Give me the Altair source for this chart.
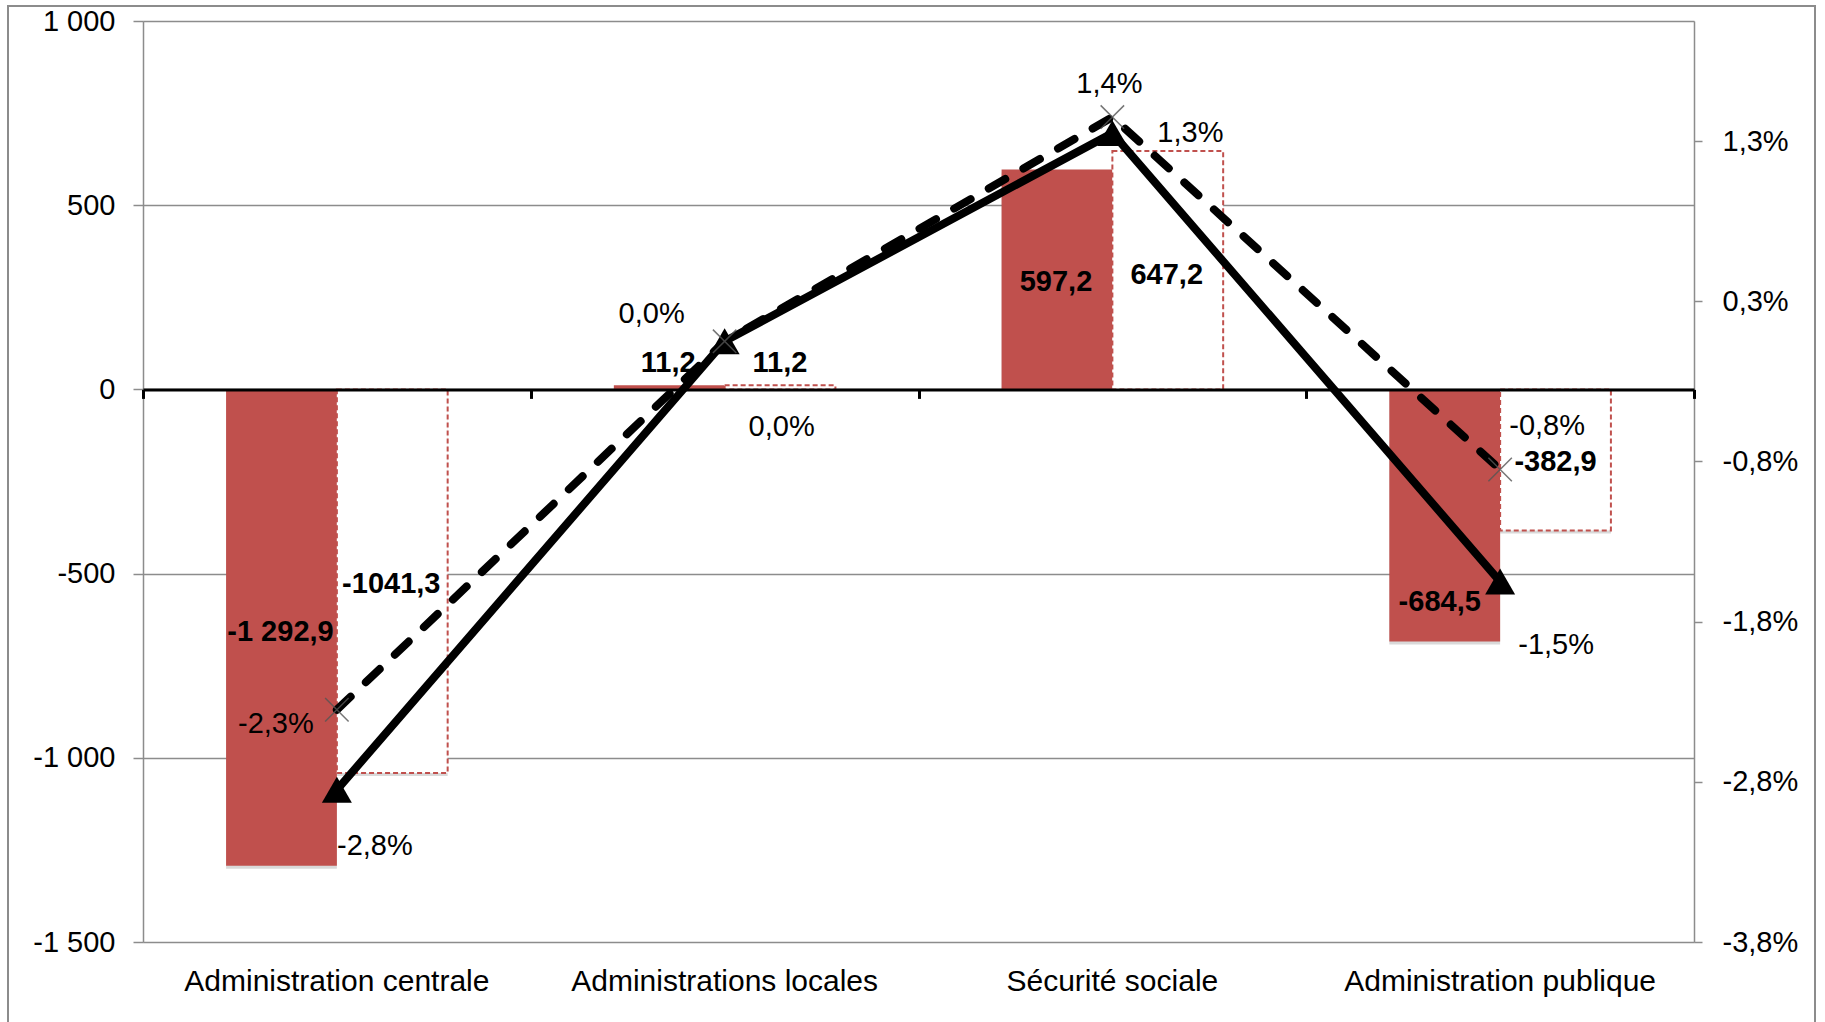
import json

import altair as alt
import pandas as pd

# ---- data -------------------------------------------------------------
CATEGORIES = [
    "Administration centrale",
    "Administrations locales",
    "Sécurité sociale",
    "Administration publique",
]
BAR_SERIES = ["Solde 1", "Solde 2"]
SOLDE_1 = [-1292.9, 11.2, 597.2, -684.5]
SOLDE_2 = [-1041.3, 11.2, 647.2, -382.9]
SOLDE_1_LABELS = ["-1 292,9", "11,2", "597,2", "-684,5"]
SOLDE_2_LABELS = ["-1041,3", "11,2", "647,2", "-382,9"]

RATE_SERIES = ["Taux 1", "Taux 2"]
TAUX_1 = [-2.8, 0.0, 1.3, -1.5]   # solid line, triangles
TAUX_2 = [-2.3, 0.0, 1.4, -0.8]   # dashed line, crosses
TAUX_1_LABELS = ["-2,8%", "0,0%", "1,3%", "-1,5%"]
TAUX_2_LABELS = ["-2,3%", "0,0%", "1,4%", "-0,8%"]

LEFT_DOMAIN = [-1500, 1000]
LEFT_TICKS = [-1500, -1000, -500, 0, 500, 1000]
LEFT_TICK_LABELS = ["-1 500", "-1 000", "-500", "0", "500", "1 000"]
RIGHT_DOMAIN = [-3.75, 2.0]
RIGHT_TICKS = [-3.75, -2.75, -1.75, -0.75, 0.25, 1.25]
RIGHT_TICK_LABELS = ["-3,8%", "-2,8%", "-1,8%", "-0,8%", "0,3%", "1,3%"]

# ---- styling ----------------------------------------------------------
W, H = 1551, 921
PAD = {"left": 143, "top": 21, "right": 131, "bottom": 80}
FONT = "Liberation Sans"
RED = "#C0504D"
GREY = "#8c8c8c"

# label nudges (anchor field, dx, dy) per (series, category index)
BAR_LABEL_PLACEMENT = {
    (0, 0): ("milieu", -1, 4), (1, 0): ("milieu", -1, 3),
    (0, 1): ("valeur", -1, -22), (1, 1): ("valeur", 0, -22),
    (0, 2): ("milieu", -1, 3), (1, 2): ("milieu", -1, 5),
    (0, 3): ("valeur", -5, -40), (1, 3): ("milieu", 0, 2),
}
RATE_LABEL_PLACEMENT = {
    (0, 0): (38, 56), (1, 0): (-61, 14),
    (0, 1): (57, 86), (1, 1): (-73, -27),
    (0, 2): (78, 0), (1, 2): (-3, -33),
    (0, 3): (56, 63), (1, 3): (47, -43),
}


def label_expr(values, labels):
    return f"{json.dumps(labels)}[indexof({json.dumps(values)}, datum.value)]"


bars = pd.DataFrame({
    "categorie": CATEGORIES * 2,
    "serie": [BAR_SERIES[0]] * 4 + [BAR_SERIES[1]] * 4,
    "valeur": SOLDE_1 + SOLDE_2,
    "texte": SOLDE_1_LABELS + SOLDE_2_LABELS,
})
bars["milieu"] = bars["valeur"] / 2

taux = pd.DataFrame({
    "categorie": CATEGORIES * 2,
    "serie": [RATE_SERIES[0]] * 4 + [RATE_SERIES[1]] * 4,
    "taux": TAUX_1 + TAUX_2,
    "texte": TAUX_1_LABELS + TAUX_2_LABELS,
})

# ---- scales & axes ----------------------------------------------------
x_scale = alt.Scale(type="band", domain=CATEGORIES, paddingInner=0, paddingOuter=0)
xo_scale = alt.Scale(type="band", domain=BAR_SERIES, paddingInner=0, paddingOuter=0.75)
yl_scale = alt.Scale(domain=LEFT_DOMAIN, nice=False)
yr_scale = alt.Scale(domain=RIGHT_DOMAIN, nice=False)

axis_cat = alt.Axis(
    orient="bottom", title=None, domain=False, ticks=False, grid=False,
    labelAngle=0, labelFont=FONT, labelFontSize=30, labelColor="black",
    labelPadding=24, labelLimit=1000,
)
zero_offset = -H * (0 - LEFT_DOMAIN[0]) / (LEFT_DOMAIN[1] - LEFT_DOMAIN[0])
axis_zero = alt.Axis(
    orient="bottom", title=None, labels=False, grid=False, offset=zero_offset,
    domainColor="black", domainWidth=3, ticks=True, tickBand="extent",
    tickColor="black", tickWidth=3, tickSize=9, zindex=1,
)
axis_left = alt.Axis(
    orient="left", title=None, values=LEFT_TICKS,
    labelExpr=label_expr(LEFT_TICKS, LEFT_TICK_LABELS),
    grid=True, gridColor=GREY, gridWidth=1.5,
    domainColor=GREY, domainWidth=1.5, tickColor=GREY, tickWidth=1.5, tickSize=10,
    labelPadding=18, labelFont=FONT, labelFontSize=29, labelColor="black",
)
axis_right = alt.Axis(
    orient="right", title=None, values=RIGHT_TICKS,
    labelExpr=label_expr(RIGHT_TICKS, RIGHT_TICK_LABELS),
    grid=False, domainColor=GREY, domainWidth=1.5, tickColor=GREY, tickWidth=1.5,
    tickSize=8, labelPadding=20, labelFont=FONT, labelFontSize=29, labelColor="black",
)

X_CAT = alt.X("categorie:N", scale=x_scale, sort=CATEGORIES, axis=axis_cat)
X_ZERO = alt.X("categorie:N", scale=x_scale, sort=CATEGORIES, axis=axis_zero)
XO = alt.XOffset("serie:N", scale=xo_scale, sort=BAR_SERIES)

# ---- left group: bars, bar labels, chart frame -------------------------
frame = alt.Chart(alt.Data(values=[{}])).mark_rect(
    filled=False, color=GREY, strokeWidth=2
).encode(
    x=alt.value(8 - PAD["left"]), x2=alt.value(1815 - PAD["left"]),
    y=alt.value(6 - PAD["top"]), y2=alt.value(1040),
)

bar_base = alt.Chart(bars).encode(
    x=X_CAT, xOffset=XO,
    y=alt.Y("valeur:Q", scale=yl_scale, axis=axis_left),
    y2=alt.datum(0),
)
# soft drop shadow under every bar
bar_shadow = bar_base.mark_bar(color="black", opacity=0.15, xOffset=3, yOffset=3)
bars_red = bar_base.transform_filter(alt.datum.serie == BAR_SERIES[0]).mark_bar(color=RED)
bars_white = bar_base.transform_filter(alt.datum.serie == BAR_SERIES[1]).mark_bar(
    fill="white", stroke=RED, strokeDash=[5, 3], strokeWidth=2
)

bar_labels = []
for (s, c), (anchor, dx, dy) in BAR_LABEL_PLACEMENT.items():
    bar_labels.append(
        alt.Chart(bars)
        .transform_filter(
            (alt.datum.serie == BAR_SERIES[s]) & (alt.datum.categorie == CATEGORIES[c])
        )
        .mark_text(
            font=FONT, fontSize=29, fontWeight="bold", color="black",
            align="center", baseline="middle", dx=dx, dy=dy,
        )
        .encode(
            x=X_CAT, xOffset=XO,
            y=alt.Y(f"{anchor}:Q", scale=yl_scale, axis=axis_left),
            text="texte:N",
        )
    )

left_group = alt.layer(bar_shadow, bars_red, bars_white, *bar_labels, frame)

# ---- right group: rate lines, markers, labels ---------------------------
rate_base = alt.Chart(taux).encode(
    x=X_ZERO, y=alt.Y("taux:Q", scale=yr_scale, axis=axis_right)
)
solid = rate_base.transform_filter(alt.datum.serie == RATE_SERIES[0])
dashed = rate_base.transform_filter(alt.datum.serie == RATE_SERIES[1])

solid_line = solid.mark_line(color="black", strokeWidth=8)
triangles = solid.mark_point(
    shape="triangle-up", filled=True, color="black", size=900, opacity=1
)
dashed_line = dashed.mark_line(
    color="black", strokeWidth=8, strokeDash=[19, 21], strokeCap="round"
)
crosses = dashed.mark_point(
    shape="M-1,-1L1,1M-1,1L1,-1", filled=False, color="#555555",
    strokeWidth=1.5, size=550, opacity=0.8,
)

rate_labels = []
for (s, c), (dx, dy) in RATE_LABEL_PLACEMENT.items():
    rate_labels.append(
        alt.Chart(taux)
        .transform_filter(
            (alt.datum.serie == RATE_SERIES[s]) & (alt.datum.categorie == CATEGORIES[c])
        )
        .mark_text(
            font=FONT, fontSize=29, color="black",
            align="center", baseline="middle", dx=dx, dy=dy,
        )
        .encode(
            x=X_ZERO,
            y=alt.Y("taux:Q", scale=yr_scale, axis=axis_right),
            text="texte:N",
        )
    )

right_group = alt.layer(solid_line, triangles, dashed_line, crosses, *rate_labels)

chart = (
    alt.layer(left_group, right_group)
    .resolve_scale(y="independent")
    .resolve_axis(x="independent", y="independent")
    .properties(
        width=W, height=H,
        autosize=alt.AutoSizeParams(type="none"),
        padding=PAD,
    )
    .configure_view(strokeWidth=0)
    .configure(background="white")
)

chart.save("out.html", embed_options={"renderer": "svg", "actions": False})
